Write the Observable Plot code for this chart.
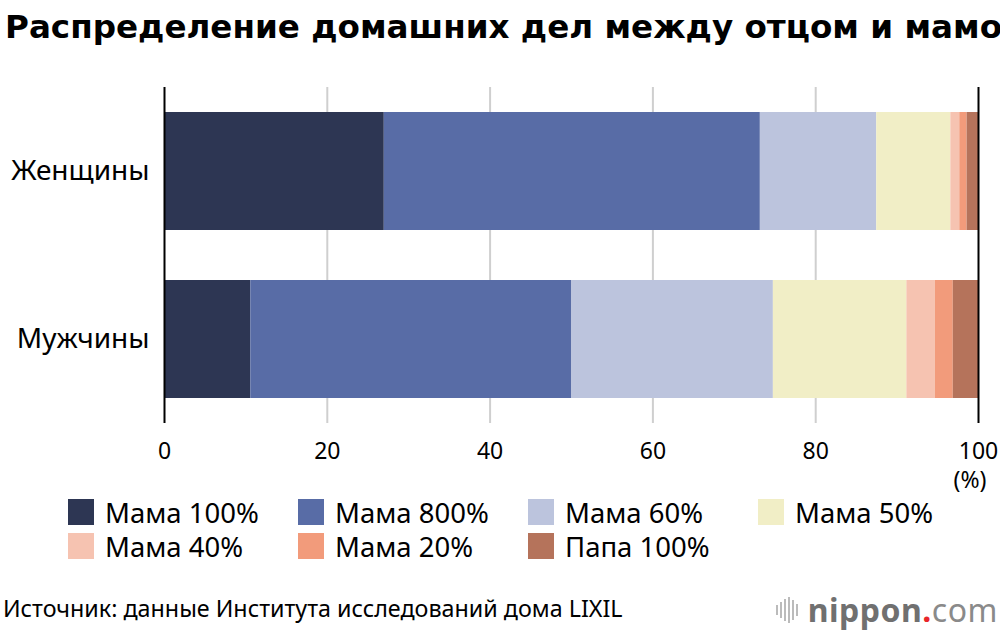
<!DOCTYPE html>
<html>
<head>
<meta charset="utf-8">
<script src="https://cdn.jsdelivr.net/npm/d3@7"></script>
<script src="https://cdn.jsdelivr.net/npm/@observablehq/plot@0.6"></script>
<style>
  html, body { margin: 0; padding: 0; background: #fff; }
  body { width: 1000px; height: 630px; overflow: hidden; font-family: "Noto Sans", sans-serif; color: #000; position: relative; }
  #title { height: 60px; padding-left: 5px; font-family: "DejaVu Sans", sans-serif; font-weight: 700; font-size: 32.6px; line-height: 54px; white-space: nowrap; overflow: hidden; }
  #chart svg { overflow: visible; display: block; }
  #legend { position: relative; padding-top: 0px; padding-left: 68px; }
  .row { display: flex; height: 34px; align-items: center; }
  .item { width: 230px; display: flex; align-items: center; font-size: 27.5px; }
  .sw { width: 26px; height: 26px; margin-right: 11px; flex: none; }
  #footer { position: absolute; left: 0; top: 590px; width: 1000px; height: 36px; }
  #source { position: absolute; left: 3px; top: 2px; font-size: 23.3px; white-space: nowrap; }
  #logo { position: absolute; right: 2px; top: -2px; display: flex; align-items: center; }
  #logo .bars { display: flex; align-items: center; margin-right: 8px; }
  #logo .bars span { display: inline-block; width: 2px; background: #bbb; margin-right: 2px; }
  #logo .txt { font-size: 32px; letter-spacing: 0.5px; }
</style>
</head>
<body>
<div id="title">Распределение домашних дел между отцом и мамой</div>
<div id="chart"></div>
<div id="legend"></div>
<div id="footer">
  <div id="source">Источник: данные Института исследований дома LIXIL</div>
  <div id="logo">
    <div class="bars"><span style="height:10px"></span><span style="height:16px"></span><span style="height:22px"></span><span style="height:26px"></span><span style="height:20px"></span><span style="height:12px"></span></div>
    <div class="txt"><span style="font-weight:700;color:#707070">nippon</span><span style="color:#e8262a;font-weight:700">.</span><span style="color:#8a8a8a">com</span></div>
  </div>
</div>
<script>
const categories = ["Женщины", "Мужчины"];
const series = ["Мама 100%", "Мама 800%", "Мама 60%", "Мама 50%", "Мама 40%", "Мама 20%", "Папа 100%"];
const colors = ["#2d3653", "#586ca6", "#bcc4dd", "#f1eec6", "#f6c3b1", "#f29b7b", "#b5735b"];
const women = [27.0, 46.2, 14.3, 9.1, 1.1, 0.9, 1.4];
const men = [10.6, 39.4, 24.8, 16.4, 3.5, 2.2, 3.1];
const xTicks = [0, 20, 40, 60, 80, 100];
const gridTicks = [20, 40, 60, 80];
const edgeTicks = [0, 100];
const unitLabel = ["(%)"];

const values = [women, men];
const data = [];
categories.forEach((c, i) => {
  series.forEach((s, j) => data.push({group: c, series: s, value: values[i][j]}));
});

const chart = Plot.plot({
  width: 1000,
  height: 435,
  marginTop: 27,
  marginBottom: 72,
  marginLeft: 164,
  marginRight: 22,
  style: {fontFamily: "Noto Sans", color: "#000", background: "transparent"},
  x: {domain: [0, 100]},
  y: {domain: categories, paddingInner: 0.30, paddingOuter: 0.145},
  color: {domain: series, range: colors},
  marks: [
    Plot.ruleX(gridTicks, {stroke: "#cfcfcf", strokeWidth: 2}),
    Plot.barX(data, Plot.stackX({x: "value", y: "group", fill: "series", order: series})),
    Plot.ruleX(edgeTicks, {stroke: "#000", strokeWidth: 2}),
    Plot.axisX({ticks: xTicks, tickSize: 0, tickPadding: 19, fontSize: 23, label: null, tickFormat: d => String(d)}),
    Plot.axisY({tickSize: 0, tickPadding: 15, fontSize: 28, label: null}),
    Plot.text(unitLabel, {text: d => d, frameAnchor: "bottom-right", dx: 8, dy: 48, lineAnchor: "top", fontSize: 23})
  ]
});
document.getElementById("chart").appendChild(chart);

const legend = document.getElementById("legend");
const perRow = 4;
for (let r = 0; r * perRow < series.length; r++) {
  const row = document.createElement("div");
  row.className = "row";
  series.slice(r * perRow, (r + 1) * perRow).forEach((s, k) => {
    const i = r * perRow + k;
    const item = document.createElement("div");
    item.className = "item";
    const sw = document.createElement("span");
    sw.className = "sw";
    sw.style.background = colors[i];
    const t = document.createElement("span");
    t.textContent = s;
    item.appendChild(sw);
    item.appendChild(t);
    row.appendChild(item);
  });
  legend.appendChild(row);
}
</script>
</body>
</html>
